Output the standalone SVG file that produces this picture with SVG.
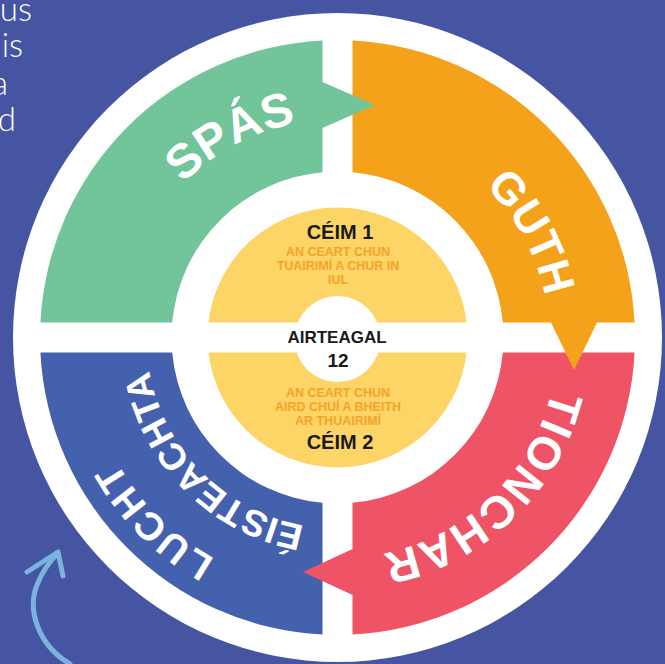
<svg xmlns="http://www.w3.org/2000/svg" width="665" height="664" viewBox="0 0 665 664">
<style>
.lbl{font-family:"Liberation Sans",Arial,sans-serif;font-weight:bold;fill:#ffffff}
.blk{font-family:"Liberation Sans",Arial,sans-serif;font-weight:bold;fill:#1a1a1a;text-anchor:middle}
.org{font-family:"Liberation Sans",Arial,sans-serif;font-weight:bold;fill:#f3a428;text-anchor:middle;font-size:12.5px}
.side{font-family:Lato,"Liberation Sans",sans-serif;font-weight:300;fill:#ffffff;font-size:33px;text-anchor:end}
</style>
<defs>
<path id="pSpas" d="M 145.0 439.9 A 218 218 0 0 1 530.0 235.1"/>
<path id="pGuth" d="M 235.9 150.3 A 213 213 0 0 1 439.1 524.7"/>
<path id="pTion" d="M 496.5 184.0 A 221 221 0 0 1 178.5 491.0"/>
<path id="pLucht" d="M 516.5 516.5 A 253 253 0 0 1 158.5 158.5"/>
<path id="pEist" d="M 472.6 472.6 A 191 191 0 0 1 202.4 202.4"/>
</defs>
<rect width="665" height="664" fill="#4555a2"/>
<g id="side-text">
<text class="side" x="32" y="21">us</text>
<text class="side" x="23" y="57">is</text>
<text class="side" x="8" y="95">a</text>
<text class="side" x="16" y="131">d</text>
</g>
<g id="ring">
<circle cx="337.5" cy="337.5" r="324.5" fill="#ffffff"/>
</g>
<g id="luchtEisteachta">
<path d="M 322.5 634.6 A 297.5 297.5 0 0 1 40.4 352.5 L 172.2 352.5 A 166 166 0 0 0 322.5 502.8 Z" fill="#4461ad"/>
<text class="lbl" font-size="39" letter-spacing="2"><textPath href="#pLucht" startOffset="50%" text-anchor="middle">LUCHT</textPath></text>
<text class="lbl" font-size="37"><textPath href="#pEist" startOffset="50%" text-anchor="middle">ÉISTEACHTA</textPath></text>
</g>
<g id="tionchar">
<path d="M 634.6 352.5 A 297.5 297.5 0 0 1 352.5 634.6 L 352.5 595 L 303 572 L 352.5 549 L 352.5 502.8 A 166 166 0 0 0 502.8 352.5 Z" fill="#ef5466"/>
<text class="lbl" font-size="46" letter-spacing="1"><textPath href="#pTion" startOffset="50%" text-anchor="middle">TIONCHAR</textPath></text>
</g>
<g id="guth">
<path d="M 352.5 40.4 A 297.5 297.5 0 0 1 634.6 322.5 L 597 322.5 L 574 370 L 551 322.5 L 502.8 322.5 A 166 166 0 0 0 352.5 172.2 Z" fill="#f5a21b"/>
<text class="lbl" font-size="45"><textPath href="#pGuth" startOffset="50%" text-anchor="middle">GUTH</textPath></text>
</g>
<g id="spas">
<path d="M 322.5 40.4 L 322.5 82 L 375 105 L 322.5 128 L 322.5 172.2 A 166 166 0 0 0 172.2 322.5 L 40.4 322.5 A 297.5 297.5 0 0 1 322.5 40.4 Z" fill="#72c49a"/>
<text class="lbl" font-size="48"><textPath href="#pSpas" startOffset="50%" text-anchor="middle">SPÁS</textPath></text>
</g>
<g id="ceim1">
<circle cx="337.5" cy="337.5" r="130" fill="#fdd466"/>
<rect x="200" y="322.5" width="275" height="30" fill="#ffffff"/>
<text class="blk" x="340" y="239" font-size="20">CÉIM 1</text>
<text class="org" x="338" y="256">AN CEART CHUN</text>
<text class="org" x="338" y="270">TUAIRIMÍ A CHUR IN</text>
<text class="org" x="338" y="284">IUL</text>
</g>
<g id="airteagal">
<circle cx="337.5" cy="339" r="43" fill="#ffffff"/>
<text class="blk" x="337" y="343" font-size="17">AIRTEAGAL</text>
<text class="blk" x="338" y="367" font-size="19">12</text>
</g>
<g id="ceim2">
<text class="org" x="338" y="397">AN CEART CHUN</text>
<text class="org" x="338" y="411">AIRD CHUÍ A BHEITH</text>
<text class="org" x="338" y="425">AR THUAIRIMÍ</text>
<text class="blk" x="340" y="449" font-size="20">CÉIM 2</text>
</g>
<g id="connectors">
<path d="M 70 664 C 38 645 27 610 37 585 C 42 572 50 561 58 553" fill="none" stroke="#7bb3df" stroke-width="5" stroke-linecap="round"/>
<path d="M 27 572 L 58 552 L 63 576" fill="none" stroke="#7bb3df" stroke-width="5" stroke-linecap="round" stroke-linejoin="round"/>
</g>
</svg>
